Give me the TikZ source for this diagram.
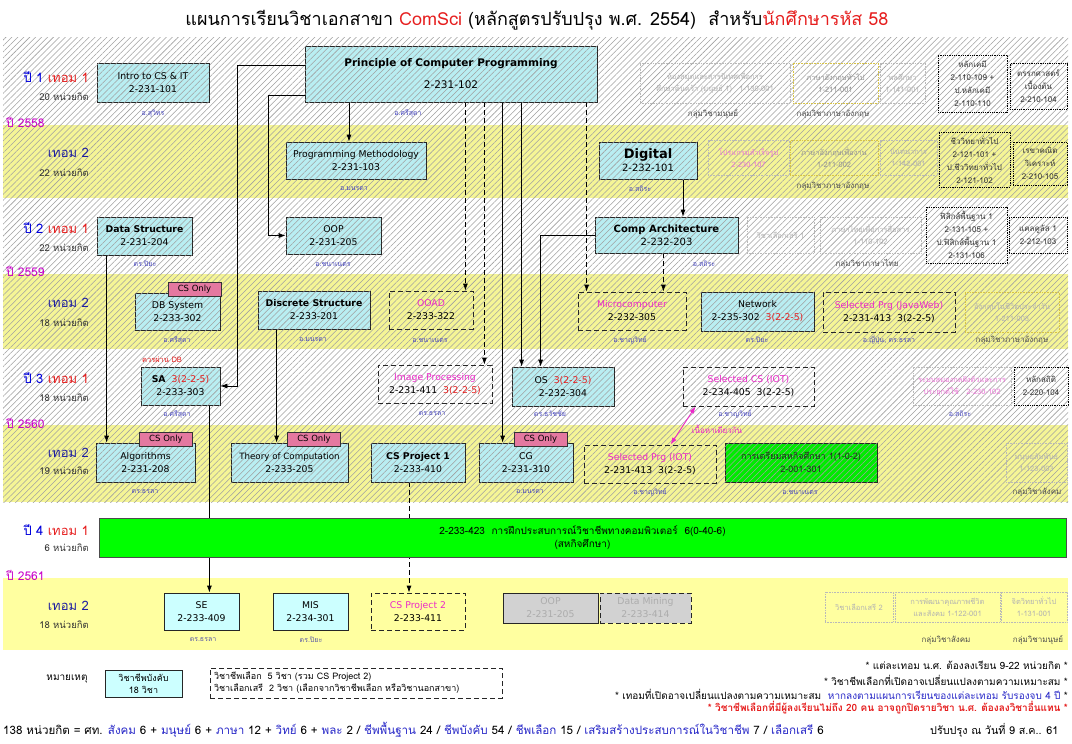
\documentclass[tikz,border=0pt]{standalone}
\usepackage{fontspec}
\setmainfont[Script=Thai]{Loma}
\newfontfamily\lat{DejaVu Sans}
\usetikzlibrary{arrows.meta,patterns.meta,calc}
\pgfdeclarelayer{bands}
\pgfdeclarelayer{links}
\pgfsetlayers{bands,links,main}
\definecolor{cbox}{RGB}{185,238,242}
\definecolor{cboxp}{RGB}{204,255,255}
\definecolor{yband}{RGB}{245,245,150}
\definecolor{ysolid}{RGB}{255,255,160}
\definecolor{hatchc}{RGB}{160,160,160}
\definecolor{tagpink}{RGB}{228,120,160}
\definecolor{mag}{RGB}{235,40,200}
\definecolor{ired}{RGB}{230,30,30}
\definecolor{instr}{RGB}{70,70,190}
\definecolor{yr}{RGB}{200,0,200}
\definecolor{navy}{RGB}{30,30,160}
\definecolor{yblue}{RGB}{0,0,220}
\definecolor{nblue}{RGB}{40,40,200}
\definecolor{gold}{RGB}{215,195,70}
\definecolor{grn}{RGB}{0,235,0}
\definecolor{grnbar}{RGB}{0,255,0}
\definecolor{fmag}{RGB}{235,120,215}
\tikzset{
 hatchp/.style={postaction={pattern={Lines[angle=45,distance=4.2pt,line width=0.55pt]},pattern color=hatchc}},
 sz/.style 2 args={minimum width=#1pt, minimum height=#2pt},
 bx/.style={inner sep=1pt, align=center, line width=0.8pt},
 cb/.style={bx, draw=black!85, fill=cbox, hatchp, font=\lat\fontsize{9.3}{13}\selectfont},
 cbp/.style={bx, draw=black!85, fill=cboxp, font=\lat\fontsize{9.3}{13}\selectfont},
 db/.style={bx, draw=black!85, dash pattern=on 5pt off 3pt, font=\lat\fontsize{9.3}{13}\selectfont},
 fb/.style={bx, draw=gray!55, line width=0.6pt, densely dotted, text=gray!60, font=\fontsize{7.5}{12}\selectfont},
 gb/.style={fb, draw=gold},
 kb/.style={bx, draw=black, line width=0.8pt, densely dotted, text=black!80, font=\fontsize{8}{13}\selectfont},
 cstag/.style={draw=black!80, line width=0.7pt, fill=tagpink, inner sep=0pt, minimum width=53pt, minimum height=14pt, font=\lat\fontsize{8.5}{10}\selectfont},
 ins/.style={text=instr, font=\fontsize{7}{8}\selectfont, inner sep=0pt},
 grp/.style={text=black!70, font=\fontsize{8}{9}\selectfont, inner sep=0pt},
 sem/.style={anchor=east, inner sep=0pt, font=\fontsize{13}{14}\selectfont},
 cred/.style={anchor=east, inner sep=0pt, font=\fontsize{9.5}{10}\selectfont, text=black!80},
 yrl/.style={anchor=west, inner sep=0pt, text=yr, font=\fontsize{12}{13}\selectfont},
 conn/.style={draw=black, line width=0.8pt, -{Latex[length=7pt,width=5pt]}},
 dconn/.style={conn, dash pattern=on 5pt off 3pt},
 magarr/.style={draw=mag, line width=0.9pt, {Latex[length=7pt,width=5pt]}-{Latex[length=7pt,width=5pt]}},
 note/.style={anchor=east, inner sep=0pt, font=\fontsize{10}{11}\selectfont}
}
\begin{document}
\begin{tikzpicture}[x=1pt,y=-1pt]
\useasboundingbox (0,0) rectangle (1072,744);
\begin{pgfonlayer}{bands}
\fill[white] (0,0) rectangle (1072,744);
\path[fill=white, hatchp] (3,37) rectangle (1068,125);
\path[fill=yband, hatchp] (3,125) rectangle (1068,198);
\path[fill=white, hatchp] (3,198) rectangle (1068,274);
\path[fill=yband, hatchp] (3,274) rectangle (1068,349);
\path[fill=white, hatchp] (3,349) rectangle (1068,425);
\path[fill=yband, hatchp] (3,425) rectangle (1068,502);
\path[fill=ysolid] (3,578) rectangle (1068,650);
\end{pgfonlayer}

% title
\node[font=\fontsize{18}{20}\selectfont, inner sep=0pt] (title) at (537,20) {แผนการเรียนวิชาเอกสาขา {\color{ired}ComSci} (หลักสูตรปรับปรุง พ.ศ. 2554)\ \ สำหรับ{\color{ired}นักศึกษารหัส 58}};

% semester labels
\node[sem] (s1) at (89,77) {{\color{yblue}ปี 1} {\color{ired}เทอม 1}};
\node[cred] (c1) at (89,97) {20 หน่วยกิต};
\node[sem] (s2) at (89,153) {\color{navy}เทอม 2};
\node[cred] (c2) at (89,173) {22 หน่วยกิต};
\node[sem] (s3) at (89,228) {{\color{yblue}ปี 2} {\color{ired}เทอม 1}};
\node[cred] (c3) at (89,248) {22 หน่วยกิต};
\node[sem] (s4) at (89,303) {\color{navy}เทอม 2};
\node[cred] (c4) at (89,323) {18 หน่วยกิต};
\node[sem] (s5) at (89,378) {{\color{yblue}ปี 3} {\color{ired}เทอม 1}};
\node[cred] (c5) at (89,398) {18 หน่วยกิต};
\node[sem] (s6) at (89,453) {\color{navy}เทอม 2};
\node[cred] (c6) at (89,471) {19 หน่วยกิต};
\node[sem] (s7) at (89,530) {{\color{yblue}ปี 4} {\color{ired}เทอม 1}};
\node[cred] (c7) at (89,548) {6 หน่วยกิต};
\node[sem] (s8) at (89,606) {\color{navy}เทอม 2};
\node[cred] (c8) at (89,625) {18 หน่วยกิต};
\node[yrl] (y58) at (6,122) {ปี 2558};
\node[yrl] (y59) at (6,271) {ปี 2559};
\node[yrl] (y60) at (6,423) {ปี 2560};
\node[yrl] (y61) at (6,575) {ปี 2561};

% ---- core boxes ----
\node[cb, sz={112}{39}] (intro) at (153,82.5) {Intro to CS \& IT\\2-231-101};
\node[cb, sz={292}{56}] (princ) at (451,74) {{\fontsize{10.5}{12}\selectfont\bfseries Principle of Computer Programming}\\[9pt]{\fontsize{10.5}{12}\selectfont 2-231-102}};
\node[cb, sz={140}{37}] (pm) at (356,160.5) {Programming Methodology\\2-231-103};
\node[cb, sz={98}{37}] (dig) at (648,160.5) {{\fontsize{13}{15}\selectfont\bfseries Digital}\\{\fontsize{10}{12}\selectfont 2-232-101}};
\node[cb, sz={95}{38}] (ds) at (144.5,236) {{\bfseries Data Structure}\\2-231-204};
\node[cb, sz={95}{37}] (oop) at (333.5,235.5) {OOP\\2-231-205};
\node[cb, sz={143}{36}] (compa) at (666.5,235) {{\fontsize{10}{12}\selectfont\bfseries Comp Architecture}\\{\fontsize{10}{12}\selectfont 2-232-203}};
\node[cb, sz={85}{37}] (dbs) at (177.5,311.5) {DB System\\2-233-302};
\node[cb, sz={112}{38}] (disc) at (314,310) {{\bfseries Discrete Structure}\\2-233-201};
\node[db, sz={84}{38}] (ooad) at (431,310) {{\color{mag}OOAD}\\2-233-322};
\node[db, sz={108}{38}] (micro) at (632,311) {{\color{mag}Microcomputer}\\2-232-305};
\node[cb, sz={113}{39}] (net) at (757.5,311.5) {Network\\2-235-302\ \ {\color{ired}3(2-2-5)}};
\node[db, sz={132}{40}] (jw) at (889,312) {{\color{mag}Selected Prg (JavaWeb)}\\2-231-413\ \ 3(2-2-5)};
\node[cb, sz={79}{38}] (sa) at (180.5,386) {{\bfseries SA}\ \ {\color{ired}3(2-2-5)}\\2-233-303};
\node[db, sz={114}{38}] (ip) at (435,384) {{\color{mag}Image Processing}\\2-231-411\ \ {\color{ired}3(2-2-5)}};
\node[cb, sz={102}{39}] (os) at (563,386.5) {OS\ \ {\color{ired}3(2-2-5)}\\2-232-304};
\node[db, sz={131}{39}] (selcs) at (748.5,386.5) {{\color{mag}Selected CS (IOT)}\\2-234-405\ \ 3(2-2-5)};
\node[cb, sz={99}{39}] (alg) at (145.5,462.5) {Algorithms\\2-231-208};
\node[cb, sz={117}{39}] (toc) at (289.5,462.5) {{\fontsize{8.7}{13}\selectfont Theory of Computation}\\2-233-205};
\node[cb, sz={94}{39}] (csp1) at (418,462.5) {{\bfseries CS Project 1}\\2-233-410};
\node[cb, sz={94}{39}] (cg) at (526,462.5) {CG\\2-231-310};
\node[db, sz={132}{38}] (selprg) at (650,464) {{\color{mag}Selected Prg (IOT)}\\2-231-413\ \ 3(2-2-5)};
\node[bx, draw=black!85, fill=grn, hatchp, sz={152}{39}, font=\fontsize{9}{13}\selectfont, text=black!85] (coop) at (801,462.5) {การเตรียมสหกิจศึกษา 1(1-0-2)\\2-001-301};
\node[bx, draw=black!70, fill=grnbar, sz={967}{39}, font=\fontsize{10}{13}\selectfont] (wil) at (582.5,537.5) {2-233-423\ \ การฝึกประสบการณ์วิชาชีพทางคอมพิวเตอร์\ \ 6(0-40-6)\\(สหกิจศึกษา)};
\node[cbp, sz={75}{37}] (se) at (201.5,611.5) {SE\\2-233-409};
\node[cbp, sz={75}{37}] (mis) at (310.5,611.5) {MIS\\2-234-301};
\node[db, sz={94}{37}] (csp2) at (418,611.5) {{\color{mag}CS Project 2}\\2-233-411};
\node[bx, draw=black!85, fill=gray!35, text=gray!65, sz={95}{30}, font=\lat\fontsize{9.3}{13}\selectfont] (oopg) at (550.5,608) {OOP\\2-231-205};
\node[bx, draw=black!85, dash pattern=on 5pt off 3pt, fill=gray!35, text=gray!65, sz={91}{30}, font=\lat\fontsize{9.3}{13}\selectfont] (dm) at (645.5,608) {Data Mining\\2-233-414};

% CS Only tags
\node[cstag] (t1) at (194.5,289) {CS Only};
\node[cstag] (t2) at (166,439) {CS Only};
\node[cstag] (t3) at (314,439) {CS Only};
\node[cstag] (t4) at (540.5,439) {CS Only};

% instructors
\node[ins] (i1) at (153,114) {อ.สุวิทร};
\node[ins] (i2) at (408,113) {อ.ศรีสุดา};
\node[ins] (i3) at (354,189) {อ.มนรดา};
\node[ins] (i4) at (640,189) {อ.สถิระ};
\node[ins] (i5) at (145,264) {ดร.ปิยะ};
\node[ins] (i6) at (333,264) {อ.ชนาเนตร};
\node[ins] (i7) at (704,264) {อ.สถิระ};
\node[ins] (i8) at (177,340) {อ.ศรีสุดา};
\node[ins] (i9) at (313,340) {อ.มนรดา};
\node[ins] (i10) at (430,340) {อ.ชนาเนตร};
\node[ins] (i11) at (630,340) {อ.ชาญวิทย์};
\node[ins] (i12) at (757,340) {ดร.ปิยะ};
\node[ins] (i13) at (889,340) {อ.ญี่ปุ่น, ดร.ธรลา};
\node[ins] (i14) at (177,414) {อ.ศรีสุดา};
\node[ins] (i15) at (432,414) {ดร.ธรลา};
\node[ins] (i16) at (550,414) {ดร.ธวัชชัย};
\node[ins] (i17) at (735,414) {อ.ชาญวิทย์};
\node[ins] (i18) at (960,414) {อ.สถิระ};
\node[ins] (i19) at (145,492) {ดร.ธรลา};
\node[ins] (i20) at (530,492) {อ.มนรดา};
\node[ins] (i21) at (650,492) {อ.ชาญวิทย์};
\node[ins] (i22) at (800,492) {อ.ชนาเนตร};
\node[ins, text=gray!70!blue] (i23) at (203,640) {ดร.ธรลา};
\node[ins, text=gray!70!blue] (i24) at (311,640) {ดร.ปิยะ};
\node[inner sep=0pt, text=ired, font=\fontsize{7.5}{8}\selectfont] (pre) at (162,360) {ควรผ่าน DB};
\node[inner sep=0pt, text=mag, font=\fontsize{8}{9}\selectfont] (same) at (717,429) {เนื้อหาเดียวกัน};

% ---- general education boxes ----
\node[fb, sz={150}{40}] (f1) at (715,83) {ห้องสมุดและสารนิเทศเพื่อการ\\ศึกษาค้นคว้า (มนุษย์ 1)\quad 1-130-001};
\node[gb, sz={85}{40}, text=gray!85] (f2) at (835.5,83) {ภาษาอังกฤษทั่วไป\\1-211-001};
\node[fb, sz={45}{40}] (f3) at (902.5,83) {พลศึกษา\\1-141-001};
\node[grp] (g1) at (713,114) {กลุ่มวิชามนุษย์};
\node[grp] (g2) at (833,114) {กลุ่มวิชาภาษาอังกฤษ};
\node[kb, sz={69}{57}] (k1) at (972.5,83.5) {หลักเคมี\\2-110-109 +\\ป.หลักเคมี\\2-110-110};
\node[kb, sz={57}{46}] (k2) at (1038.5,86.5) {ตรรกศาสตร์\\เบื้องต้น\\2-210-104};

\node[fb, sz={81}{35}, text=fmag] (f4) at (748.5,158) {โปรแกรมสำเร็จรูป\\2-230-107};
\node[gb, sz={88}{35}, text=gray!85] (f5) at (834,158) {ภาษาอังกฤษเพื่องาน\\1-211-002};
\node[fb, sz={57}{35}] (f6) at (908.5,158) {นันทนาการ\\1-142-001};
\node[grp] (g3) at (833,186) {กลุ่มวิชาภาษาอังกฤษ};
\node[kb, sz={71}{55}] (k3) at (974.5,159.5) {ชีววิทยาทั่วไป\\2-121-101 +\\ป.ชีววิทยาทั่วไป\\2-121-102};
\node[kb, sz={54}{43}] (k4) at (1040,163.5) {เรขาคณิต\\วิเคราะห์\\2-210-105};

\node[fb, sz={67}{36}] (f7) at (780.5,235) {วิชาเลือกเสรี 1};
\node[fb, sz={101}{36}] (f8) at (870.5,235) {ภาษาไทยเพื่อการสื่อสาร\\1-110-102};
\node[grp] (g4) at (867,264) {กลุ่มวิชาภาษาไทย};
\node[kb, sz={81}{56}] (k5) at (966.5,235) {ฟิสิกส์พื้นฐาน 1\\2-131-105 +\\ป.ฟิสิกส์พื้นฐาน 1\\2-131-106};
\node[kb, sz={58}{36}] (k6) at (1038,235) {แคลคูลัส 1\\2-212-103};

\node[gb, sz={94}{40}] (f9) at (1012,312) {อังกฤษในชีวิตประจำวัน\\1-211-003};
\node[grp] (g5) at (1012,340) {กลุ่มวิชาภาษาอังกฤษ};

\node[fb, sz={98}{38}, text=fmag] (f10) at (962,386) {ระบบสมองกลฝังตัวและการ\\ประยุกต์ใช้\quad 2-230-102};
\node[kb, sz={54}{38}] (k7) at (1041,386) {หลักสถิติ\\2-220-104};

\node[fb, sz={61}{39}] (f11) at (1036.5,462.5) {มนุษยสัมพันธ์\\1-123-003};
\node[grp] (g6) at (1037,492) {กลุ่มวิชาสังคม};

\node[fb, sz={68}{30}] (f12) at (859,607) {วิชาเลือกเสรี 2};
\node[fb, sz={105}{30}] (f13) at (947.5,607) {การพัฒนาคุณภาพชีวิต\\และสังคม 1-122-001};
\node[fb, sz={66}{30}] (f14) at (1034,607) {จิตวิทยาทั่วไป\\1-131-001};
\node[grp] (g7) at (946,640) {กลุ่มวิชาสังคม};
\node[grp] (g8) at (1038,640) {กลุ่มวิชามนุษย์};

% ---- legend and notes ----
\node[inner sep=0pt, font=\fontsize{10}{11}\selectfont] (hm) at (67,679) {หมายเหตุ};
\node[bx, draw=black!85, fill=cboxp, sz={77}{27}, font=\fontsize{9}{12}\selectfont] (lg1) at (143.5,683.5) {วิชาชีพบังคับ\\18 วิชา};
\node[bx, draw=black!85, dash pattern=on 5pt off 3pt, sz={292}{30}, text width=284pt, align=left, font=\fontsize{9}{12}\selectfont] (lg2) at (356,683) {วิชาชีพเลือก\ \ 5 วิชา (รวม CS Project 2)\\วิชาเลือกเสรี\ \ 2 วิชา (เลือกจากวิชาชีพเลือก หรือวิชานอกสาขา)};
\node[note] (n1) at (1068,665) {* แต่ละเทอม น.ศ. ต้องลงเรียน 9-22 หน่วยกิต *};
\node[note] (n2) at (1068,680) {* วิชาชีพเลือกที่เปิดอาจเปลี่ยนแปลงตามความเหมาะสม *};
\node[note] (n3) at (1068,694) {* เทอมที่เปิดอาจเปลี่ยนแปลงตามความเหมาะสม\ \ {\color{nblue}หากลงตามแผนการเรียนของแต่ละเทอม รับรองจบ 4 ปี} *};
\node[note, text=ired, font=\fontsize{10}{11}\selectfont\bfseries] (n4) at (1068,708) {* วิชาชีพเลือกที่มีผู้ลงเรียนไม่ถึง 20 คน อาจถูกปิดรายวิชา น.ศ. ต้องลงวิชาอื่นแทน *};
\node[anchor=west, inner sep=0pt, font=\fontsize{11.6}{13}\selectfont] (tot) at (3,730) {138 หน่วยกิต = ศท. {\color{nblue}สังคม} 6 + {\color{nblue}มนุษย์} 6 + {\color{nblue}ภาษา} 12 + {\color{nblue}วิทย์} 6 + {\color{nblue}พละ} 2 / {\color{nblue}ชีพพื้นฐาน} 24 / {\color{nblue}ชีพบังคับ} 54 / {\color{nblue}ชีพเลือก} 15 / {\color{nblue}เสริมสร้างประสบการณ์ในวิชาชีพ} 7 / {\color{nblue}เลือกเสรี} 6};
\node[anchor=west, inner sep=0pt, font=\fontsize{10.8}{12}\selectfont] (upd) at (930,730) {ปรับปรุง ณ วันที่ 9 ส.ค.. 61};

% ---- connectors ----
\begin{pgfonlayer}{links}
\coordinate (jA) at (237,65);
\coordinate (jB) at (268,95);
\draw[conn] ([yshift=9pt]princ.west) -- (jA) |- (sa.east);
\draw[conn] ([yshift=-21pt]princ.west) -- (jB) |- (oop.west);
\coordinate (tPM) at ($(pm.north)+(-7,0)$);
\draw[conn] (tPM |- princ.south) -- (tPM);
\coordinate (tOOAD) at ($(ooad.north east)+(-8,0)$);
\draw[dconn] (tOOAD |- princ.south) -- (tOOAD);
\coordinate (tIP) at ($(ip.north east)+(-8,0)$);
\draw[dconn] (tIP |- princ.south) -- (tIP);
\coordinate (tCG) at ($(cg.north west)+(24,0)$);
\draw[conn] (tCG |- princ.south) -- (tCG);
\coordinate (tOS) at ($(os.north west)+(10,0)$);
\draw[conn] (tOS |- princ.south) -- (tOS);
\coordinate (tOS2) at ($(os.north west)+(29,0)$);
\draw[conn] (compa.west) -| (tOS2);
\coordinate (tMC1) at ($(micro.north west)+(9,0)$);
\draw[dconn] (tMC1 |- princ.south) -- (tMC1);
\coordinate (tMC2) at ($(micro.north east)+(-23,0)$);
\draw[dconn] (tMC2 |- compa.south) -- (tMC2);
\coordinate (tCA) at ($(dig.south)+(35,0)$);
\draw[conn] (tCA) -- (tCA |- compa.north);
\coordinate (tALG) at ($(ds.south west)+(10,0)$);
\draw[conn] (tALG) -- (tALG |- alg.north);
\coordinate (tTOC) at ($(disc.south west)+(19,0)$);
\draw[conn] (tTOC) -- (tTOC |- toc.north);
\coordinate (tSE) at ($(sa.south east)+(-11,0)$);
\draw[conn] (tSE) -- (tSE |- se.north);
\coordinate (tCSP) at ($(csp1.south)+(-9,0)$);
\draw[dconn] (tCSP) -- (tCSP |- csp2.north);
\coordinate (m1) at ($(selcs.south west)+(13,0)$);
\coordinate (m2) at ($(selprg.north west)+(87,0)$);
\draw[magarr] (m1) -- (m2);
\end{pgfonlayer}
\end{tikzpicture}
\end{document}
